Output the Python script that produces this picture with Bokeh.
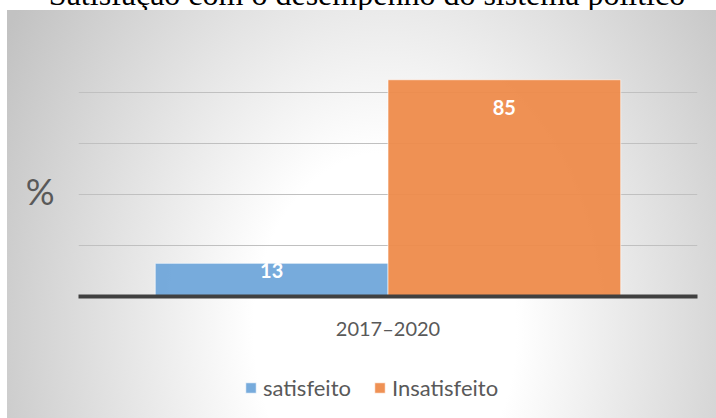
from bokeh.plotting import figure
from bokeh.layouts import column
from bokeh.models import (ColumnDataSource, FactorRange, Range1d, FixedTicker,
                          Legend, LegendItem, Div)
from bokeh.transform import dodge
from bokeh.core.properties import value
from bokeh.embed import file_html
from bokeh.resources import INLINE

# ---- data ----
title_text = "Satisfação com o desempenho do sistema político"
y_title = "%"
period = ["2017–2020"]
series = ["satisfeito", "Insatisfeito"]
satisfeito = [13]
insatisfeito = [85]
y_ticks = [0, 20, 40, 60, 80, 100]

colors = ["#70A6DA", "#EE8B4B"]
FONT = "Lato"
W = 716
H_MAIN = 350
H_LEG = 58
GRAD = "radial-gradient(ellipse 438px 590px at 378px 320px, #ffffff 30%, #c2c2c2 100%)"


def bg(offset_y):
    return {
        "background-color": "white",
        "background-image": GRAD,
        "background-repeat": "no-repeat",
        "background-position": f"7px {offset_y}px",
        "background-size": "709px 408px",
    }


# ---- strip holding the (cut-off) title above the chart box ----
top = Div(
    text=(f'<div style="position:relative; top:-22px; left:9px; width:{W}px; '
          f'text-align:center; white-space:nowrap; font-family:\'Liberation Serif\'; '
          f'font-size:32px; line-height:32px; color:#000;">{title_text}</div>'),
    width=W, height=10, margin=0,
    styles={"overflow": "hidden", "background-color": "white"},
)

# ---- main chart ----
src = ColumnDataSource(dict(
    period=period,
    satisfeito=satisfeito,
    insatisfeito=insatisfeito,
    satisfeito_txt=[str(v) for v in satisfeito],
    insatisfeito_txt=[str(v) for v in insatisfeito],
))

p = figure(width=W, height=H_MAIN,
           x_range=FactorRange(factors=period, range_padding=0),
           y_range=Range1d(0, 100),
           output_backend="svg", toolbar_location=None,
           min_border_left=78, min_border_right=19,
           min_border_top=31, min_border_bottom=H_MAIN - 286)
p.title.visible = False
p.background_fill_alpha = 0
p.border_fill_alpha = 0
p.outline_line_color = None
p.styles = bg(0)

p.xgrid.visible = False
p.ygrid.ticker = FixedTicker(ticks=y_ticks)
p.ygrid.grid_line_color = "#c0c0c0"
p.ygrid.grid_line_width = 1

# y axis carries only the "%" title
ya = p.yaxis[0]
ya.ticker = FixedTicker(ticks=[41.2])
ya.major_label_overrides = {41.2: y_title}
ya.axis_line_color = None
ya.major_tick_line_color = None
ya.minor_tick_line_color = None
ya.major_label_text_font = FONT
ya.major_label_text_font_size = "36px"
ya.major_label_text_color = "#595959"
ya.major_label_standoff = 18

# x axis = baseline + category label
xa = p.xaxis[0]
xa.axis_line_width = 4
xa.axis_line_color = "#404040"
xa.major_tick_line_color = None
xa.minor_tick_line_color = None
xa.major_label_text_font = FONT
xa.major_label_text_font_size = "20px"
xa.major_label_text_color = "#595959"
xa.major_label_standoff = 13

bw = 0.376
bar_style = dict(fill_alpha=0.95, line_color="white", line_alpha=0.6, line_width=1)
r1 = p.vbar(x=dodge("period", -bw / 2, range=p.x_range), top="satisfeito", width=bw,
            source=src, fill_color=colors[0], **bar_style)
r2 = p.vbar(x=dodge("period", bw / 2, range=p.x_range), top="insatisfeito", width=bw,
            source=src, fill_color=colors[1], **bar_style)

lab_style = dict(text_font=value(FONT), text_font_style="bold", text_font_size="20px",
                 text_color="white", text_align="center", text_baseline="middle")
p.text(x=dodge("period", -bw / 2, range=p.x_range), y="satisfeito", text="satisfeito_txt",
       source=src, y_offset=7, **lab_style)
p.text(x=dodge("period", bw / 2, range=p.x_range), y="insatisfeito", text="insatisfeito_txt",
       source=src, y_offset=28, **lab_style)

# ---- legend strip (its frame is aligned with the main chart's frame) ----
# its view lies far away from the series' bars, so only the legend swatches show
leg = figure(width=W, height=H_LEG,
             x_range=FactorRange(factors=period, range_padding=0),
             y_range=Range1d(-1000, -999),
             output_backend="svg", toolbar_location=None,
             x_axis_location=None, y_axis_location=None,
             min_border_left=78, min_border_right=19, min_border_top=0, min_border_bottom=0)
leg.title.visible = False
leg.grid.visible = False
leg.outline_line_color = None
leg.background_fill_alpha = 0
leg.border_fill_alpha = 0
leg.styles = bg(-H_MAIN)
s1 = leg.vbar(x=dodge("period", 5, range=leg.x_range), top="satisfeito", width=bw,
              source=src, fill_color=colors[0], **bar_style)
s2 = leg.vbar(x=dodge("period", 6, range=leg.x_range), top="insatisfeito", width=bw,
              source=src, fill_color=colors[1], **bar_style)
legend = Legend(items=[LegendItem(label=series[0], renderers=[s1]),
                       LegendItem(label=series[1], renderers=[s2])],
                orientation="horizontal", location=(166, 17),
                glyph_width=13, glyph_height=13, label_standoff=6, spacing=22,
                padding=0, margin=0, border_line_color=None, background_fill_alpha=0,
                label_text_font=FONT, label_text_font_size="22px",
                label_text_color="#595959")
leg.add_layout(legend, "center")

layout = column(top, p, leg, spacing=0)

open("out.html", "w").write(file_html(layout, INLINE))
